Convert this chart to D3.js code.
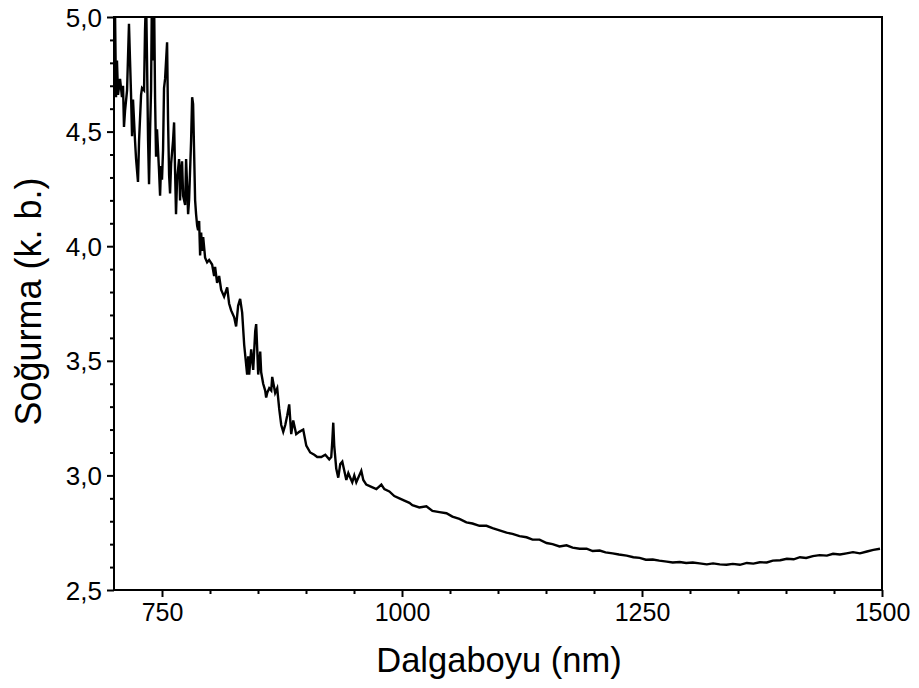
<!DOCTYPE html>
<html><head><meta charset="utf-8">
<script src="https://cdn.jsdelivr.net/npm/d3@7"></script>
<style>
html,body{margin:0;padding:0;background:#fff;}
text{font-family:"Liberation Sans",Arial,sans-serif;fill:#000;}
</style></head>
<body><svg id="c" width="919" height="688"></svg>
<script>
const wavelength = [700,701,702.1,703.1,704.2,706.3,708.3,709.4,710.4,711.5,713.6,715.6,716.7,717.7,718.8,719.8,721.9,723,725,726.1,728.2,729.2,731.3,732.3,733.4,734.4,735.5,736.5,737.6,738.6,739.6,740.7,741.7,742.8,743.8,744.8,746.9,748,749,750,751.1,752.1,753.2,755.3,756.3,757.4,758.4,759.5,761.5,762.6,763.6,764.6,765.7,767.8,768.8,769.9,770.9,772,774.1,775.1,776.1,777.2,778.2,780.3,781.4,782.4,783.4,784.5,785.5,786.6,787.6,788.7,789.7,790.8,791.8,792.9,794.9,797,799.1,802.2,804.3,805.3,807.4,809.5,811.6,814.7,817.9,819.9,822,825.2,827.2,829.3,831.4,833.5,835.6,838.7,839.8,840.8,842.9,845,847.1,848.1,849.2,850.2,852.3,853.3,855.4,857.5,858.5,859.6,861.7,863.8,864.8,867.9,870,872.1,874.2,876.3,878.4,880.4,882.5,884.6,886.7,889.8,893,897.1,900.3,904.4,908.6,911.7,915.9,920.1,924.2,926.3,927.4,928.4,929.4,931.5,933.6,935.7,937.8,939.9,942,944.1,946.1,948.2,950.3,952.4,957.6,959.7,962.8,968.1,973.3,978.5,981.6,986.8,992,997.3,1002.5,1007.7,1010.8,1018.1,1025.4,1031.7,1039,1046.3,1052.5,1059.8,1067.1,1073.4,1080.7,1088,1094.3,1101.6,1108.9,1115.1,1122.4,1129.7,1136,1143.3,1150.6,1156.8,1164.1,1171.4,1177.7,1185,1192.3,1198.6,1205.9,1212,1219.4,1226,1234,1241,1247.6,1254,1261.2,1268,1275.8,1282,1289.3,1296,1302.9,1310,1317.5,1324,1331,1338,1344.6,1352,1359.2,1366,1372.7,1380,1386.3,1394,1400.9,1408,1414.5,1421,1428,1435,1442.6,1449,1456.2,1463,1469.8,1477,1484.3,1491,1497.9,1500];
const absorbance = [4.90,5.05,4.65,4.81,4.66,4.73,4.65,4.70,4.52,4.59,4.68,4.97,4.81,4.67,4.48,4.64,4.46,4.38,4.28,4.46,4.66,4.69,4.68,4.94,5.10,4.81,4.46,4.27,4.51,4.68,5.15,4.81,5.10,4.64,4.39,4.51,4.33,4.22,4.35,4.29,4.42,4.69,4.73,4.89,4.55,4.31,4.23,4.36,4.46,4.54,4.33,4.14,4.29,4.38,4.20,4.33,4.37,4.22,4.18,4.38,4.27,4.14,4.20,4.46,4.65,4.62,4.42,4.20,4.14,4.09,4.07,4.11,3.96,4.06,3.98,4.04,3.95,3.93,3.94,3.92,3.87,3.91,3.84,3.87,3.81,3.78,3.82,3.75,3.72,3.69,3.65,3.74,3.77,3.71,3.57,3.44,3.52,3.44,3.55,3.46,3.63,3.66,3.55,3.44,3.54,3.45,3.40,3.37,3.34,3.36,3.38,3.37,3.43,3.36,3.38,3.29,3.22,3.19,3.22,3.26,3.31,3.18,3.24,3.18,3.19,3.20,3.13,3.10,3.09,3.08,3.08,3.09,3.07,3.08,3.15,3.23,3.13,3.03,2.99,3.05,3.06,3.02,2.98,3.01,2.99,2.97,3.00,2.97,3.02,2.98,2.96,2.95,2.94,2.96,2.94,2.93,2.91,2.90,2.89,2.88,2.87,2.86,2.865,2.845,2.84,2.835,2.82,2.81,2.795,2.79,2.78,2.78,2.77,2.76,2.75,2.745,2.735,2.73,2.72,2.72,2.705,2.70,2.69,2.695,2.685,2.68,2.68,2.67,2.672,2.664,2.66,2.655,2.65,2.643,2.64,2.632,2.633,2.628,2.624,2.62,2.622,2.618,2.62,2.616,2.612,2.616,2.612,2.61,2.614,2.61,2.618,2.615,2.621,2.62,2.628,2.63,2.636,2.634,2.643,2.64,2.648,2.652,2.65,2.658,2.655,2.66,2.665,2.66,2.668,2.675,2.68];
const xTicks = [750,1000,1250,1500];
const xMinor = [800,850,900,950,1050,1100,1150,1200,1300,1350,1400,1450];
const yTicks = [2.5,3.0,3.5,4.0,4.5,5.0];
const yMinor = [2.6,2.7,2.8,2.9,3.1,3.2,3.3,3.4,3.6,3.7,3.8,3.9,4.1,4.2,4.3,4.4,4.6,4.7,4.8,4.9];
const xTitle = "Dalgaboyu (nm)";
const yTitle = "Soğurma (k. b.)";

const L=114,R=882,T=17,B=590;
const svg=d3.select("#c");
const x=d3.scaleLinear().domain([700,1500]).range([L,R]);
const y=d3.scaleLinear().domain([2.5,5.0]).range([B,T]);
const fmt=d=>d3.format(".1f")(d).replace(".",",");

svg.append("clipPath").attr("id","cp").append("rect").attr("x",L).attr("y",T).attr("width",R-L).attr("height",B-T);
const data=wavelength.map((w,i)=>[w,absorbance[i]]);
svg.append("path").datum(data).attr("clip-path","url(#cp)")
  .attr("d",d3.line().x(d=>x(d[0])).y(d=>y(d[1])))
  .attr("fill","none").attr("stroke","#000").attr("stroke-width",2.4).attr("stroke-linejoin","miter");

svg.append("rect").attr("x",L).attr("y",T).attr("width",R-L).attr("height",B-T)
  .attr("fill","none").attr("stroke","#000").attr("stroke-width",2);

const gx=svg.append("g").attr("transform",`translate(0,${B})`);
gx.call(d3.axisBottom(x).tickValues(xTicks).tickFormat(d3.format("d")).tickSize(7).tickPadding(6));
const gxm=svg.append("g").attr("transform",`translate(0,${B})`);
gxm.call(d3.axisBottom(x).tickValues(xMinor).tickFormat("").tickSize(4));
const gy=svg.append("g").attr("transform",`translate(${L},0)`);
gy.call(d3.axisLeft(y).tickValues(yTicks).tickFormat(fmt).tickSize(7).tickPadding(5));
const gym=svg.append("g").attr("transform",`translate(${L},0)`);
gym.call(d3.axisLeft(y).tickValues(yMinor).tickFormat("").tickSize(4));
svg.selectAll(".domain").remove();
svg.selectAll(".tick line").attr("stroke","#000").attr("stroke-width",2);
gx.selectAll("text").attr("font-size",25).attr("font-family","Liberation Sans, Arial, sans-serif");
gy.selectAll("text").attr("font-size",26).attr("font-family","Liberation Sans, Arial, sans-serif").attr("dy","0.35em");

svg.append("text").attr("x",(L+R)/2+1).attr("y",672).attr("text-anchor","middle")
  .attr("font-size",34.5).text(xTitle);
svg.append("text").attr("transform",`translate(41,${(T+B)/2-2}) rotate(-90)`).attr("text-anchor","middle")
  .attr("font-size",36).text(yTitle);
</script></body></html>
